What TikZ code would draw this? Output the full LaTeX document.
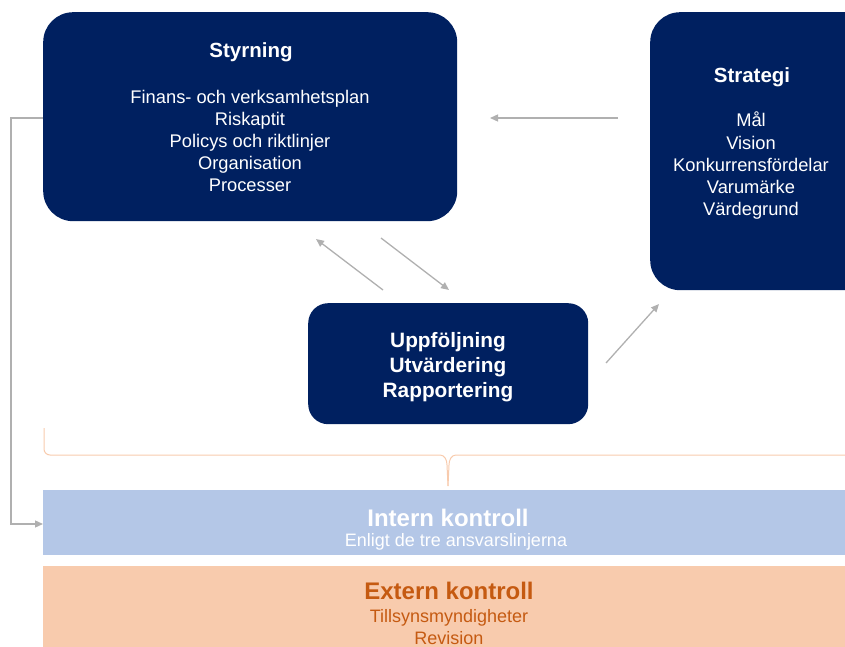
\documentclass[tikz,border=0pt]{standalone}
\usepackage{fontspec}
\setmainfont{Liberation Sans}
\usetikzlibrary{arrows.meta,calc}
\definecolor{navy}{HTML}{002060}
\definecolor{arrgray}{HTML}{B0B0B0}
\definecolor{intern}{HTML}{B4C7E7}
\definecolor{extern}{HTML}{F8CBAD}
\definecolor{externtxt}{HTML}{C55A11}
\definecolor{bracecol}{HTML}{F8CBAD}
\tikzset{
  darkbox/.style={fill=navy, draw=none, anchor=north west, inner sep=0pt},
  band/.style={draw=none, anchor=north west, inner sep=0pt},
  wtxt/.style={text=white, align=center, inner sep=0pt},
  arr/.style={draw=arrgray, line width=1.3pt, -{Triangle[length=8pt,width=7pt]}},
}
\begin{document}
\begin{tikzpicture}[x=1pt,y=-1pt]
\useasboundingbox (0,0) rectangle (845,647);
\clip (0,0) rectangle (845,647);
% boxes
\node[darkbox, rounded corners=30pt, minimum width=414pt, minimum height=209pt] (sty) at (43,12) {};
\node[darkbox, rounded corners=30pt, minimum width=250pt, minimum height=278pt] (strat) at (650,12) {};
\node[darkbox, rounded corners=20pt, minimum width=280pt, minimum height=121pt] (upp) at (308,303) {};
\node[band, fill=intern, minimum width=820pt, minimum height=65pt] (ik) at (43,490) {};
\node[band, fill=extern, minimum width=820pt, minimum height=90pt] (ek) at (43,566) {};
% texts
\node[wtxt, font=\fontsize{20.5}{24}\selectfont\bfseries] (styt) at (251,52) {Styrning};
\node[wtxt, font=\fontsize{18.3}{22.1}\selectfont, anchor=north] (styb) at (250,90) {Finans- och verksamhetsplan\\Riskaptit\\Policys och riktlinjer\\Organisation\\Processer};
\node[wtxt, font=\fontsize{20.5}{24}\selectfont\bfseries] (stratt) at (752,77) {Strategi};
\node[wtxt, font=\fontsize{18.3}{22.1}\selectfont, anchor=north] (stratb) at (751,112) {Mål\\Vision\\Konkurrensfördelar\\Varumärke\\Värdegrund};
\node[wtxt, font=\fontsize{20.8}{25}\selectfont\bfseries] (uppt) at (448,367) {Uppföljning\\Utvärdering\\Rapportering};
\node[wtxt, font=\fontsize{24}{27}\selectfont\bfseries] (ikt) at (448,518) {Intern kontroll};
\node[wtxt, font=\fontsize{18}{20}\selectfont] (iks) at (456,542) {Enligt de tre ansvarslinjerna};
\node[text=externtxt, inner sep=0pt, font=\fontsize{24}{27}\selectfont\bfseries] (ekt) at (449,591) {Extern kontroll};
\node[text=externtxt, align=center, inner sep=0pt, font=\fontsize{18}{22}\selectfont, anchor=north] (eks) at (449,609) {Tillsynsmyndigheter\\Revision};
% arrows
\coordinate (a1s) at (618,118);
\coordinate (a1e) at (490,118);
\draw[arr] (a1s) -- (a1e);
\coordinate (a2s) at (383,290);
\coordinate (a2e) at (316,239);
\draw[arr] (a2s) -- (a2e);
\coordinate (a3s) at (381,238);
\coordinate (a3e) at (449,290);
\draw[arr] (a3s) -- (a3e);
\coordinate (a4s) at (606,363);
\coordinate (a4e) at (659,304);
\draw[arr] (a4s) -- (a4e);
\draw[arr] (sty.west |- 0,118) -- (11,118) -- (11,524) -- (ik.west |- 0,524);
% brace
\draw[draw=bracecol, line width=1pt] (44,428) -- (44,449) to[out=-90,in=180] (50,455) -- (440,455) to[out=0,in=90] (447,465) -- (448,486);
\draw[draw=bracecol, line width=1pt] (448,486) -- (449,465) to[out=90,in=180] (456,455) -- (845,455);
\end{tikzpicture}
\end{document}
